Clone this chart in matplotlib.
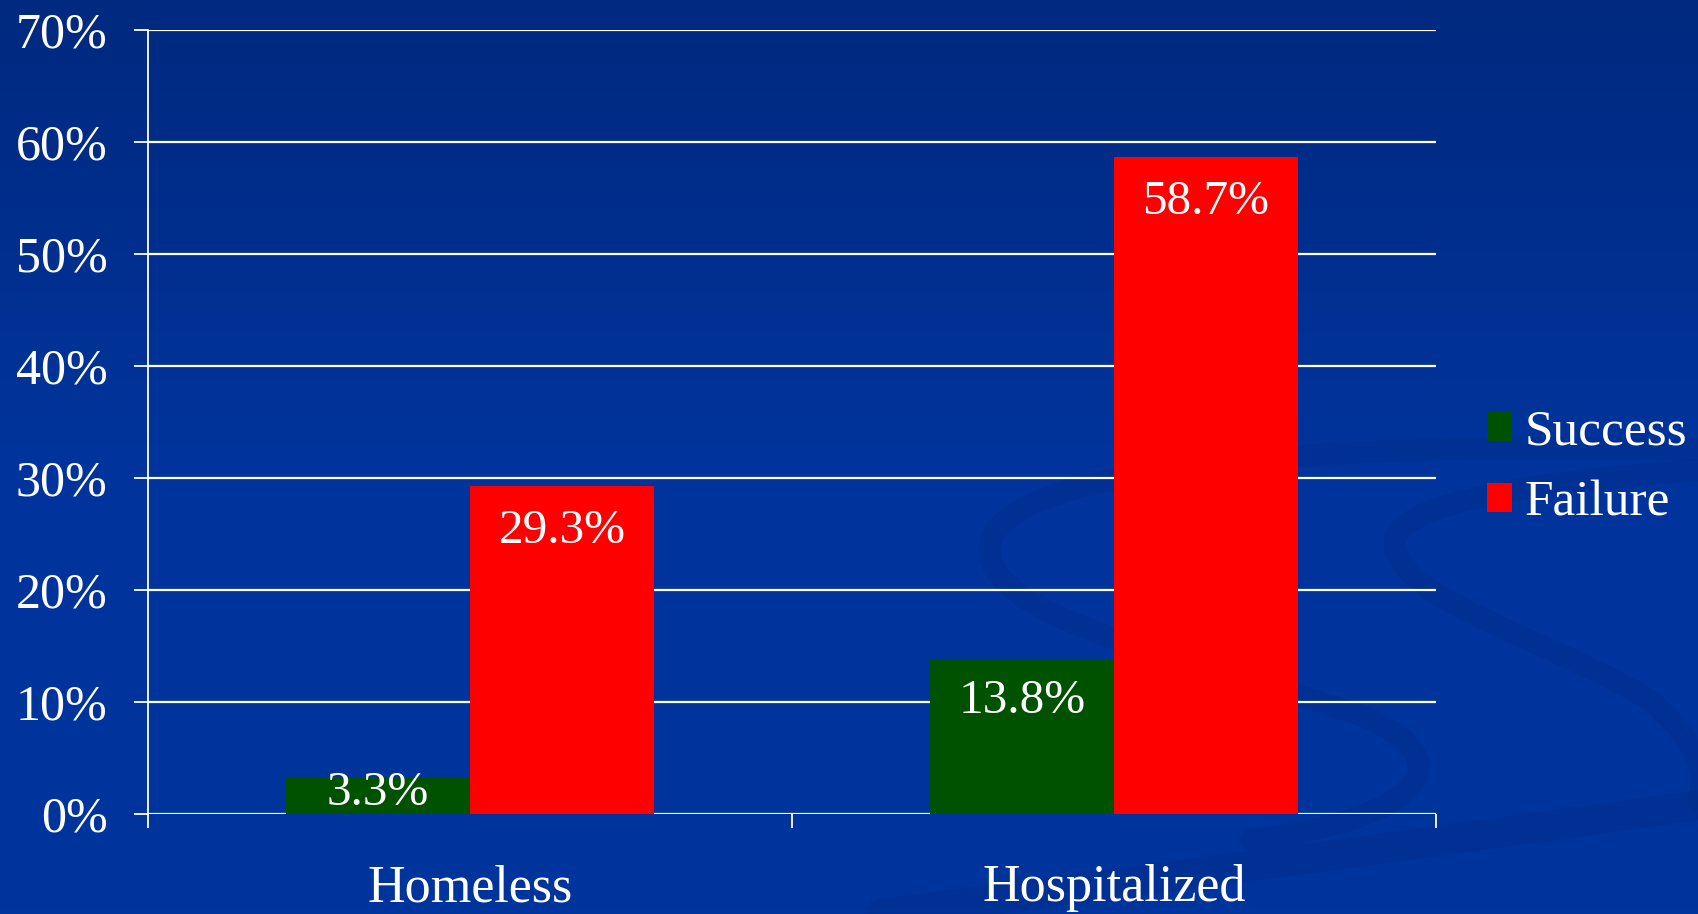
import matplotlib
matplotlib.use("Agg")
import matplotlib.pyplot as plt
import numpy as np
from matplotlib.path import Path
from matplotlib.patches import PathPatch
from matplotlib.colors import LinearSegmentedColormap

categories = ["Homeless", "Hospitalized"]
series_names = ["Success", "Failure"]
success = [3.3, 13.8]
failure = [29.3, 58.7]
yticks = [0, 10, 20, 30, 40, 50, 60, 70]
ytick_labels = ["0%", "10%", "20%", "30%", "40%", "50%", "60%", "70%"]

GREEN = "#005200"
RED = "#FF0000"
FONT = "Liberation Serif"

W, H = 1698, 914
fig = plt.figure(figsize=(W / 100, H / 100), dpi=100)

# background gradient with faint decorative swirls
bg = fig.add_axes([0, 0, 1, 1], zorder=-10)
cmap = LinearSegmentedColormap.from_list("bg", ["#00297f", "#00349c", "#00359e"])
grad = np.linspace(0, 1, 256).reshape(-1, 1)
bg.imshow(grad, aspect="auto", cmap=cmap, extent=[0, W, H, 0])
bg.set_xlim(0, W)
bg.set_ylim(H, 0)
bg.axis("off")
swirl = "#002c88"


def ribbon(pts, lw):
    codes = [Path.MOVETO] + [Path.CURVE4] * (len(pts) - 1)
    bg.add_patch(PathPatch(Path(pts, codes), fill=False, lw=lw, ec=swirl,
                           alpha=0.4, capstyle="round"))


ribbon([(1698, 450), (1300, 440), (1000, 470), (990, 545),
        (980, 620), (1200, 660), (1360, 715),
        (1470, 760), (1420, 820), (1250, 840)], 16)
ribbon([(1698, 470), (1560, 480), (1390, 500), (1395, 545),
        (1400, 600), (1550, 640), (1650, 700),
        (1720, 760), (1698, 800), (1698, 800)], 16)
ribbon([(880, 914), (1150, 880), (1450, 840), (1698, 805)], 22)

ax = fig.add_axes([148 / W, 1 - 814 / H, (1436 - 148) / W, (814 - 30) / H])
ax.set_facecolor("none")

x = np.arange(len(categories))
bw = 0.2857
b1 = ax.bar(x - bw / 2, success, bw, color=GREEN, label=series_names[0], zorder=3)
b2 = ax.bar(x + bw / 2, failure, bw, color=RED, label=series_names[1], zorder=3)

ax.set_xlim(-0.5, 1.5)
ax.set_ylim(0, 70)
ax.set_yticks(yticks)
ax.set_yticklabels(ytick_labels, fontfamily=FONT, fontsize=36, color="white")
ax.yaxis.grid(True, color="white", lw=1.6, zorder=1)
ax.set_axisbelow(True)
ax.tick_params(axis="y", colors="white", length=10, width=1.3, pad=19)
for lab in ax.get_yticklabels():
    lab.set_color("white")

ax.set_xticks([-0.5, 0.5, 1.5])
ax.set_xticklabels([])
ax.tick_params(axis="x", colors="white", length=10, width=1.3)

for s in ["top", "right", "bottom"]:
    ax.spines[s].set_visible(False)
ax.spines["left"].set_color("white")
ax.spines["left"].set_linewidth(1.3)

for i, c in enumerate(categories):
    ax.annotate(c, xy=(x[i], 0), xycoords=("data", "axes fraction"),
                xytext=(0, -63), textcoords="offset points",
                ha="center", va="baseline", fontfamily=FONT, fontsize=37.5, color="white")

px_per_unit = (814 - 30) / 70.0
for bars, vals in ((b1, success), (b2, failure)):
    for rect, v in zip(bars, vals):
        hpx = v * px_per_unit
        off_px = min(45.0, 0.22 * hpx + 8.0)
        ax.annotate(f"{v:.1f}%", xy=(rect.get_x() + rect.get_width() / 2, v),
                    xytext=(0, -off_px * 0.72), textcoords="offset points",
                    ha="center", va="center", fontfamily=FONT, fontsize=35.5,
                    color="white", zorder=5)

leg = fig.legend(handles=[b1, b2], labels=series_names, loc="center left",
                 bbox_to_anchor=(1451 / W, 1 - 468 / H), frameon=False,
                 prop={"family": FONT, "size": 37},
                 handlelength=0.486, handleheight=0.486, handletextpad=0.25,
                 labelspacing=0.48, borderpad=0.2)
for t in leg.get_texts():
    t.set_color("white")

fig.savefig("out.png", dpi=100, facecolor="#00349c")
